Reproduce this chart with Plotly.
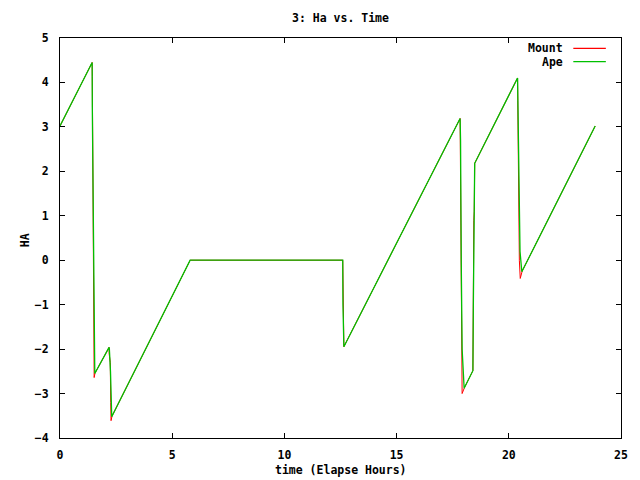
import plotly.graph_objects as go

# Data
mount_time = [0.0, 1.433, 1.44, 1.46, 1.48, 1.522, 1.56, 2.187, 2.19, 2.24, 2.26, 2.275, 2.32,
              5.80, 12.60, 12.61, 12.65, 17.83, 17.84, 17.87, 17.89, 17.92, 18.03, 18.40,
              18.44, 18.46, 18.48, 20.39, 20.40, 20.43, 20.47, 20.51, 20.60, 23.85]
mount_ha = [3.02, 4.45, 4.13, 2.70, -0.86, -2.64, -2.54, -1.96, -2.10, -2.30, -3.20, -3.61, -3.505,
            0.0, 0.0, -1.0, -1.945, 3.19, 2.60, 0.50, -2.00, -3.00, -2.86, -2.485,
            0.90, 1.10, 2.18, 4.10, 3.60, 1.50, 0.0, -0.41, -0.24, 3.02]

ape_time = [0.0, 1.433, 1.44, 1.505, 1.55, 2.187, 2.20, 2.25, 2.29, 2.305, 5.80,
            12.60, 12.61, 12.65, 17.83, 17.85, 17.88, 17.92, 18.01, 18.40, 18.42, 18.45,
            18.48, 20.39, 20.42, 20.46, 20.50, 20.58, 23.85]
ape_ha = [3.02, 4.45, 3.45, 0.27, -2.55, -1.96, -2.00, -2.50, -3.00, -3.52, 0.0,
          0.0, -1.0, -1.945, 3.19, 2.70, 0.0, -2.00, -2.88, -2.485, -1.0, 0.80,
          2.18, 4.10, 3.00, 1.50, 0.20, -0.26, 3.02]

series_names = ["Mount", "Ape"]
series_colors = ["#ff0000", "#00c000"]

x_ticks = [0, 5, 10, 15, 20, 25]
y_ticks = [-4, -3, -2, -1, 0, 1, 2, 3, 4, 5]

FONT = dict(family="DejaVu Sans Mono", size=11.5, color="black", weight="bold")

fig = go.Figure()
fig.add_trace(go.Scatter(x=mount_time, y=mount_ha, mode="lines", name=series_names[0],
                         line=dict(color=series_colors[0], width=1)))
fig.add_trace(go.Scatter(x=ape_time, y=ape_ha, mode="lines", name=series_names[1],
                         line=dict(color=series_colors[1], width=1.3)))

axis_common = dict(showgrid=False, zeroline=False, showline=True, linecolor="black",
                   linewidth=1, mirror="ticks", ticks="inside", ticklen=5,
                   tickcolor="black", tickwidth=1, tickfont=FONT)

fig.update_xaxes(range=[0, 25], tickvals=x_ticks, ticklabelstandoff=6, **axis_common)
fig.update_yaxes(range=[-4, 5], tickvals=y_ticks, ticklabelstandoff=8, **axis_common)

# gnuplot-style legend: text on the left, line sample on the right
legend_y = [0.974, 0.941]
for name, color, ly in zip(series_names, series_colors, legend_y):
    fig.add_annotation(xref="paper", yref="paper", x=0.901, y=ly, text=name,
                       showarrow=False, xanchor="right", yanchor="middle", font=FONT)
    fig.add_shape(type="line", xref="paper", yref="paper", x0=0.915, x1=0.973,
                  y0=ly, y1=ly, line=dict(color=color, width=1.3))

fig.add_annotation(xref="paper", yref="paper", x=0.5, y=1.05, text="3: Ha vs. Time",
                   showarrow=False, xanchor="center", yanchor="middle", font=FONT)
fig.add_annotation(xref="paper", yref="paper", x=0.5, y=-0.08, text="time (Elapse Hours)",
                   showarrow=False, xanchor="center", yanchor="middle", font=FONT)
fig.add_annotation(xref="paper", yref="paper", x=-0.062, y=0.495, text="HA",
                   showarrow=False, xanchor="center", yanchor="middle", textangle=-90,
                   font=FONT)

fig.update_layout(width=640, height=480, showlegend=False,
                  margin=dict(l=60, r=16, t=38, b=42),
                  paper_bgcolor="white", plot_bgcolor="white")

fig.write_html("out.html", config={"displayModeBar": False},
               post_script="document.body.style.margin='0';")
